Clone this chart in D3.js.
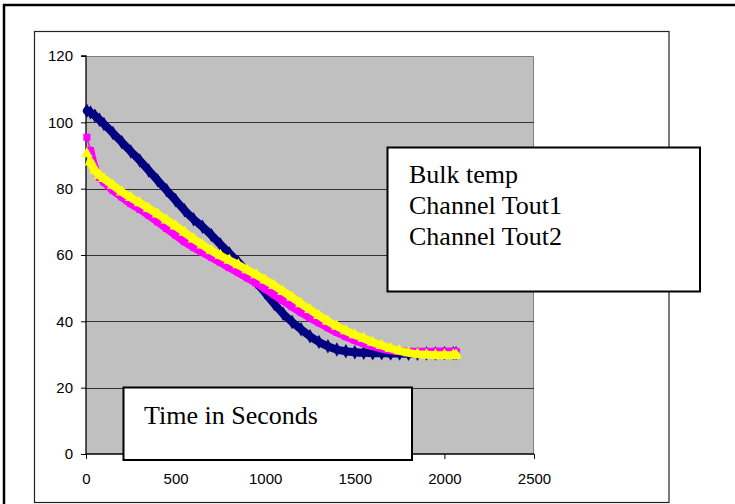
<!DOCTYPE html>
<html><head><meta charset="utf-8">
<script src="https://cdn.jsdelivr.net/npm/d3@7"></script>
<style>body{margin:0;background:#fff}svg{display:block}</style>
</head><body><svg id="c" width="735" height="504"></svg>
<script>
const times = [5,25,50,75,100,150,200,250,300,350,400,450,500,550,600,650,700,750,800,850,900,950,1000,1050,1100,1150,1200,1250,1300,1350,1400,1450,1500,1550,1600,1650,1700,1750,1800,1850,1900,1950,2000,2050,2065];
const bulkTemp = [103.5,103,102,100.8,99.5,96.8,94,91.2,88.5,85.5,82.5,79.5,76.5,73.5,70.8,68.5,66,63.2,60.5,57.8,55,51.8,48.6,45.3,42.3,39.8,37.6,35.5,33.8,32.5,31.5,31,30.7,30.5,30.4,30.4,30.3,30.3,30.2,30.2,30.3,30.3,30.4,30.4,30.4];
const tout1 = [95.5,91.5,86,83.5,82,79.5,77.5,75.5,73.8,72,70,68,66,64,62.3,60.8,59.3,57.8,56.2,54.7,53.1,51.5,49.8,48,46.2,44.4,42.7,41.1,39.6,38.1,36.7,35.4,34.3,33.3,32.5,31.8,31.3,31,30.8,30.8,30.8,30.9,30.9,30.9,30.9];
const tout2 = [90.5,88,85.5,84,83,81,79,77.3,75.7,74,72.3,70.5,68.7,66.8,64.8,63,61.3,59.8,58.4,57,55.5,54,52.4,50.8,49,47.2,45.3,43.5,41.7,40,38.5,37.1,35.9,34.8,33.7,32.7,31.8,31.1,30.5,30.1,29.9,29.8,29.8,29.8,29.8];
const seriesNames = ["Bulk temp","Channel Tout1","Channel Tout2"];
const xTicks = [0,500,1000,1500,2000,2500];
const yTicks = [0,20,40,60,80,100,120];
const axisTitle = "Time in Seconds";

const svg = d3.select("#c");
const L=86,R=534,T=56,B=454;
const x = d3.scaleLinear().domain([0,2500]).range([L,R]);
const y = d3.scaleLinear().domain([0,120]).range([B,T]);

// outer border
svg.append("line").attr("x1",3).attr("x2",735).attr("y1",5).attr("y2",5).attr("stroke","#000").attr("stroke-width",2.5);
svg.append("line").attr("x1",4).attr("x2",4).attr("y1",4).attr("y2",504).attr("stroke","#000").attr("stroke-width",2.5);
// chart area
svg.append("rect").attr("x",34.5).attr("y",31.5).attr("width",634.5).attr("height",471).attr("fill","#fff").attr("stroke","#222").attr("stroke-width",1.2);
// plot area
svg.append("rect").attr("x",L).attr("y",T).attr("width",R-L).attr("height",B-T).attr("fill","#c0c0c0");
svg.append("path").attr("d",`M${L},${T+0.5}H${R-0.5}V${B}`).attr("fill","none").attr("stroke","#808080").attr("stroke-width",1);
// grid
svg.append("g").selectAll("line").data(yTicks.filter(d=>d>0&&d<120)).join("line")
  .attr("x1",L).attr("x2",R).attr("y1",d=>Math.round(y(d))+0.5).attr("y2",d=>Math.round(y(d))+0.5)
  .attr("stroke","#333").attr("stroke-width",1);

// axes
const xa = svg.append("g").attr("transform",`translate(0,${B})`)
  .call(d3.axisBottom(x).tickValues(xTicks).tickSize(5).tickPadding(14).tickFormat(d3.format("d")));
const ya = svg.append("g").attr("transform",`translate(${L},0)`)
  .call(d3.axisLeft(y).tickValues(yTicks).tickSize(5).tickPadding(8).tickFormat(d3.format("d")));
[xa,ya].forEach(a=>{
  a.selectAll("text").attr("font-family","'Liberation Sans',Arial,sans-serif").attr("font-size",15).attr("fill","#000");
  a.selectAll("line").attr("stroke","#000");
  a.select(".domain").attr("stroke","#000").attr("stroke-width",1.3);
});
ya.select(".domain").attr("d",`M-5,${T}H0V${B}`);
xa.select(".domain").attr("d",`M0,0H${R-L}`).attr("transform",`translate(${L},0)`);

// series
const colors = ["#000080","#ff00ff","#ffff00"];
const all = [bulkTemp,tout1,tout2];
const line = d3.line().x(d=>x(d[0])).y(d=>y(d[1])).curve(d3.curveMonotoneX);
const sym = [d3.symbolDiamond,d3.symbolSquare,d3.symbolTriangle];
all.forEach((vals,i)=>{
  const pts = times.map((t,j)=>[t,vals[j]]);
  const g = svg.append("g");
  g.append("path").attr("d",line(pts.slice(i===0?0:1))).attr("fill","none").attr("stroke",colors[i])
    .attr("stroke-width",8).attr("stroke-linejoin","round").attr("stroke-linecap","round");
  g.append("path").attr("d",line(pts.slice(0,2))).attr("fill","none").attr("stroke",colors[i]).attr("stroke-width",1.5);
  g.selectAll("path.m").data(pts).join("path").attr("class","m")
    .attr("transform",d=>`translate(${x(d[0])},${y(d[1])})`)
    .attr("d",d3.symbol().type(sym[i]).size(i===1?50:60)).attr("fill",colors[i]);
});

// axis title box
svg.append("rect").attr("x",123.5).attr("y",387.5).attr("width",288.5).attr("height",72.5).attr("fill","#fff").attr("stroke","#000").attr("stroke-width",2);
svg.append("text").attr("x",144).attr("y",424).attr("font-family","'Liberation Serif','Times New Roman',serif").attr("font-size",26).attr("fill","#000").text(axisTitle);

// legend box
svg.append("rect").attr("x",387.5).attr("y",147.5).attr("width",312.5).attr("height",144).attr("fill","#fff").attr("stroke","#000").attr("stroke-width",2);
svg.append("g").selectAll("text").data(seriesNames).join("text")
  .attr("x",409).attr("y",(d,i)=>183+i*31).attr("font-family","'Liberation Serif','Times New Roman',serif").attr("font-size",26).attr("fill","#000").text(d=>d);
</script></body></html>
